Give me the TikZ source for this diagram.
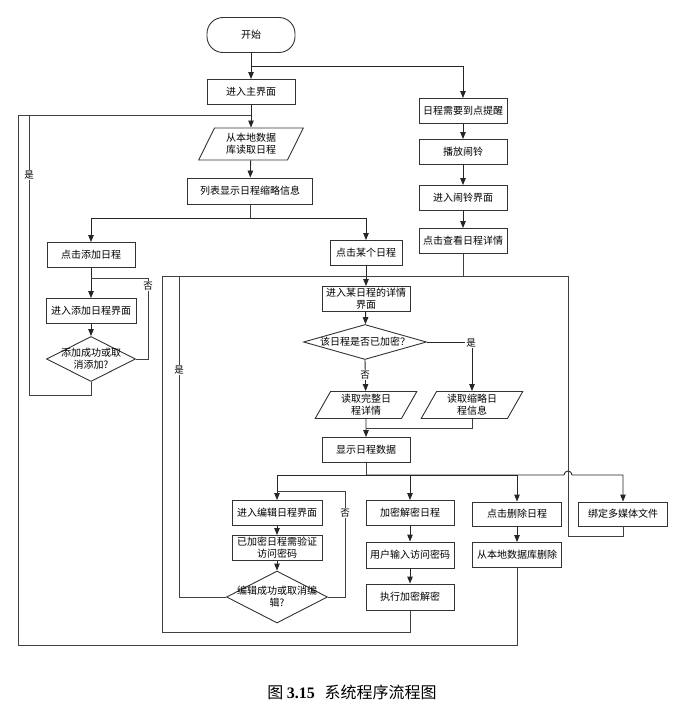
\documentclass[tikz,border=0pt]{standalone}
\usepackage{fontspec}
\setmainfont{Noto Sans CJK SC}
\newfontfamily\capserif{Liberation Serif}
\usetikzlibrary{shapes.geometric,arrows.meta}

\begin{document}
\begin{tikzpicture}[x=1pt,y=-1pt,
    font=\fontsize{10}{12}\selectfont,
    line width=0.9pt,
    proc/.style={draw=black!80, rectangle, minimum width=88, minimum height=25, inner sep=1pt, align=center},
    term/.style={draw=black!80, rectangle, rounded corners=16pt, minimum width=88, minimum height=35},
    io/.style={draw=black!80, trapezium, trapezium left angle=63, trapezium right angle=117,
        trapezium stretches=true, minimum width=102, minimum height=27, inner sep=0pt, align=center},
    decision/.style={draw=black!80, diamond, inner sep=0pt},
    dtext/.style={align=center, inner sep=0pt},
    arr/.style={draw=black!85, -{Triangle[length=7pt,width=5.5pt]}},
    line/.style={draw=black!75},
    lab/.style={fill=white, inner sep=1pt, font=\fontsize{9.5}{10}\selectfont}
]
\useasboundingbox (0,0) rectangle (688,725);

\node[term] (start) at (251,35) {开始};
\node[proc] (mainUI) at (251,92) {进入主界面};
\node[io, minimum width=105, minimum height=32] (readDB) at (251,144) {从本地数据\\库读取日程};
\node[proc, minimum width=125, minimum height=26] (listAll) at (250,191) {列表显示日程缩略信息};
\node[proc] (clickAdd) at (91,255) {点击添加日程};
\node[proc, minimum width=90] (addUI) at (91,311) {进入添加日程界面};
\node[decision, minimum width=89, minimum height=45] (dAdd) at (91,359) {};
\node[dtext] (dAddT) at (dAdd) {添加成功或取\\消添加?};
\node[proc, minimum width=72] (clickOne) at (366,253) {点击某个日程};

\node[proc] (remind) at (463,111) {日程需要到点提醒};
\node[proc] (ring) at (463,152) {播放闹铃};
\node[proc] (ringUI) at (463,198) {进入闹铃界面};
\node[proc] (viewDetail) at (463,241) {点击查看日程详情};

\node[proc] (detailUI) at (366,299) {进入某日程的详情\\界面};
\node[decision, minimum width=123, minimum height=35] (dEnc) at (365,342) {};
\node[dtext] (dEncT) at (dEnc) {该日程是否已加密？};
\node[io] (readFull) at (366,405) {读取完整日\\程详情};
\node[io] (readBrief) at (472,405) {读取缩略日\\程信息};
\node[proc] (showData) at (366,450) {显示日程数据};

\node[proc, minimum width=90] (editUI) at (277,513) {进入编辑日程界面};
\node[proc, minimum width=90] (verifyPwd) at (277,548) {已加密日程需验证\\访问密码};
\node[decision, minimum width=101, minimum height=52] (dEdit) at (277,597) {};
\node[dtext] (dEditT) at (dEdit) {编辑成功或取消编\\辑?};
\node[proc] (encDec) at (410,513) {加密解密日程};
\node[proc, minimum height=26] (inputPwd) at (410,555) {用户输入访问密码};
\node[proc, minimum height=26] (doEnc) at (410,597) {执行加密解密};
\node[proc, minimum width=89, minimum height=24] (clickDel) at (517,514) {点击删除日程};
\node[proc, minimum width=89] (delDB) at (517,555) {从本地数据库删除};
\node[proc, minimum width=89, minimum height=24] (bindMedia) at (623,514) {绑定多媒体文件};

\coordinate (jTop) at (251,66);
\coordinate (jRead) at (251,115);
\coordinate (jList) at (250,218);
\coordinate (jAdd) at (91,278);
\coordinate (jDet) at (366,276);
\coordinate (jShow) at (366,428);
\coordinate (jBr) at (366,475);
\coordinate (jEdit) at (277,491);

\draw[arr] (start) -- (mainUI);
\draw[arr] (jTop) -| (remind);
\draw[arr] (mainUI) -- (readDB);
\draw[arr] (readDB) -- (listAll);
\draw[line] (listAll) -- (jList);
\draw[arr] (jList) -| (clickAdd);
\draw[arr] (jList) -| (clickOne);
\draw[arr] (clickAdd) -- (addUI);
\draw[arr] (addUI) -- (dAdd);
\draw[line] (dAdd.east) -- (148,359) |- (jAdd);
\draw[line] (dAdd.south) |- (29,395) |- (jRead);
\draw[line] (delDB.south) |- (18,645) |- (jRead);

\draw[arr] (remind) -- (ring);
\draw[arr] (ring) -- (ringUI);
\draw[arr] (ringUI) -- (viewDetail);
\draw[line] (viewDetail.south) |- (jDet);

\draw[arr] (clickOne) -- (detailUI);
\draw[arr] (detailUI) -- (dEnc);
\draw[arr] (dEnc.south) -- (readFull);
\draw[arr] (dEnc.east) -| (readBrief);
\draw[arr] (readFull) -- (showData);
\draw[line] (readBrief.south) |- (jShow);
\draw[line] (showData) -- (jBr);

\draw[arr] (jBr) -| (editUI);
\draw[arr] (jBr) -| (encDec);
\draw[arr] (jBr) -| (clickDel);
\draw[arr] (jBr) -- (564,475) arc[start angle=180, end angle=360, radius=4] -| (bindMedia);

\draw[arr] (editUI) -- (verifyPwd);
\draw[arr] (verifyPwd) -- (dEdit);
\draw[line] (dEdit.east) -- (345,597) |- (jEdit);
\draw[line] (dEdit.west) -| (179,276) -- (jDet);
\draw[arr] (encDec) -- (inputPwd);
\draw[arr] (inputPwd) -- (doEnc);
\draw[line] (doEnc.south) |- (162,632) |- (jDet);
\draw[arr] (clickDel) -- (delDB);
\draw[line] (bindMedia.south) |- (568,536) |- (jDet);

\node[lab] (noAdd) at (148,286) {否};
\node[lab] (yesAdd) at (29,175) {是};
\node[lab] (yesEdit) at (179,370) {是};
\node[lab] (noEdit) at (345,513) {否};
\node[lab] (yesEnc) at (471,343) {是};
\node[lab] (noEnc) at (365,375) {否};

\node[font=\fontsize{16}{18}\selectfont] (caption) at (352,692) {图 {\capserif\bfseries 3.15}\hspace{0.6em}系统程序流程图};
\end{tikzpicture}
\end{document}
